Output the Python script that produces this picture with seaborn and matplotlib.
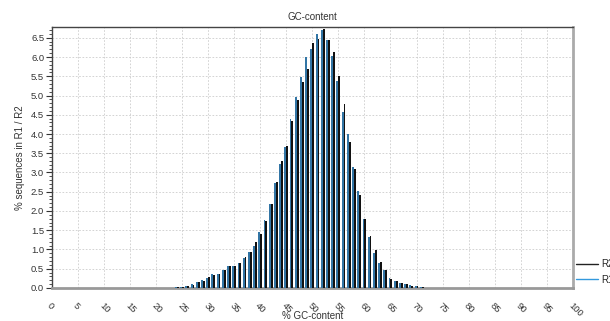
import matplotlib
matplotlib.use("Agg")
import matplotlib.pyplot as plt
from matplotlib.lines import Line2D
from matplotlib.ticker import MultipleLocator
import seaborn as sns
import pandas as pd

# GC-content distribution, % of reads per integer GC%
gc = list(range(23, 73))
r1 = [0.01, 0.02, 0.03, 0.05, 0.11, 0.16, 0.20, 0.25, 0.36, 0.37,
      0.47, 0.57, 0.58, 0.66, 0.78, 0.94, 1.08, 1.45, 1.76, 2.19,
      2.73, 3.22, 3.66, 4.39, 4.97, 5.48, 6.00, 6.21, 6.59, 6.69,
      6.45, 6.03, 5.39, 4.58, 3.99, 3.14, 2.52, 1.80, 1.33, 0.92,
      0.65, 0.47, 0.27, 0.17, 0.14, 0.09, 0.07, 0.05, 0.03, 0.01]
r2 = [0.01, 0.02, 0.03, 0.04, 0.07, 0.15, 0.19, 0.28, 0.33, 0.37,
      0.47, 0.57, 0.58, 0.65, 0.81, 0.93, 1.20, 1.41, 1.75, 2.19,
      2.74, 3.31, 3.70, 4.33, 4.89, 5.36, 5.68, 6.36, 6.46, 6.72,
      6.45, 6.13, 5.52, 4.77, 3.78, 3.09, 2.41, 1.80, 1.35, 0.98,
      0.68, 0.46, 0.24, 0.18, 0.13, 0.09, 0.06, 0.05, 0.03, 0.01]
x_ticks = list(range(0, 101, 5))

df = pd.DataFrame({
    "gc": gc * 2,
    "pct": r1 + r2,
    "read": ["R1"] * len(gc) + ["R2"] * len(gc),
})

sns.set_style("white")
plt.rcParams["font.family"] = ["Liberation Sans", "DejaVu Sans"]

colors = {"R1": "#1f78b8", "R2": "#111111"}

fig = plt.figure(figsize=(6.1, 3.21), dpi=100)
ax = fig.add_axes([0.085, 0.103, 0.854, 0.814])

sns.barplot(data=df, x="gc", y="pct", hue="read", hue_order=["R1", "R2"],
            palette=colors, native_scale=True, dodge=True, width=0.72,
            linewidth=0, legend=False, ax=ax, zorder=3)

ax.set_xlim(0, 100)
ax.set_ylim(0, 6.79)
ax.set_xticks(x_ticks)
ax.set_xticklabels([str(t) for t in x_ticks], rotation=-45, ha="left",
                   va="top", fontsize=6.8, color="#333333",
                   rotation_mode="anchor")
ax.yaxis.set_major_locator(MultipleLocator(0.5))
ax.yaxis.set_minor_locator(MultipleLocator(0.1))
ax.set_yticklabels([f"{v:.1f}" for v in ax.get_yticks()], fontsize=6.8,
                   color="#333333")
ax.tick_params(axis="y", which="major", left=True, length=4, width=0.8,
               color="#333333", pad=1.5)
ax.tick_params(axis="y", which="minor", left=True, length=2, width=0.6,
               color="#333333")
ax.tick_params(axis="x", bottom=False, pad=6)

ax.grid(True, which="major", linestyle=(0, (2, 2)), color="#cccccc",
        linewidth=0.6, zorder=0)
ax.set_axisbelow(True)

for side in ["left", "top"]:
    ax.spines[side].set_color("#444444")
    ax.spines[side].set_linewidth(1.0)
ax.spines["bottom"].set_color("#999999")
ax.spines["bottom"].set_linewidth(2.0)
ax.spines["right"].set_color("#aaaaaa")
ax.spines["right"].set_linewidth(2.0)

ax.set_title("GC-content", fontsize=7, color="#333333", pad=5)
ax.set_xlabel("% GC-content", fontsize=7, color="#333333")
ax.xaxis.set_label_coords(0.5, -0.09)
ax.set_ylabel("% sequences in R1 / R2", fontsize=7, color="#333333",
              labelpad=4)

handles = [Line2D([0], [0], color="#222222", lw=1),
           Line2D([0], [0], color="#3399dd", lw=1)]
fig.legend(handles, ["R2", "R1"], loc="lower left",
           bbox_to_anchor=(0.945, 0.113), frameon=False, fontsize=7,
           handlelength=2.2, handletextpad=0.4, labelspacing=0.55,
           borderaxespad=0, borderpad=0)

fig.savefig("out.png", dpi=100)
